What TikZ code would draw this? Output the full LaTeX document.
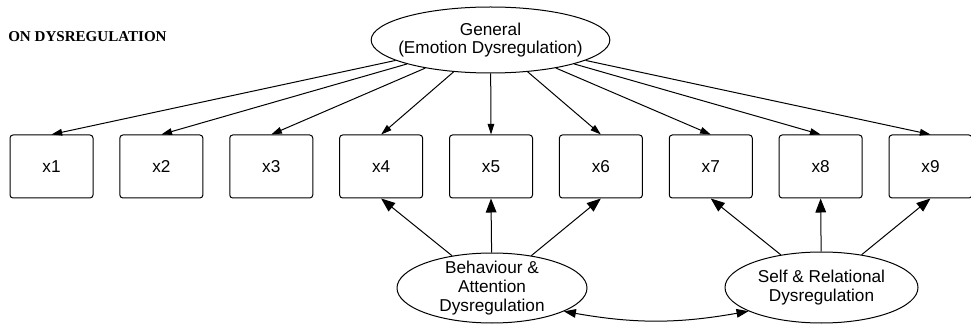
\documentclass[tikz,border=0pt]{standalone}
\usepackage{fontspec}
\setmainfont{Liberation Sans}
\newfontfamily\headfont{Liberation Serif}
\usetikzlibrary{shapes.geometric,arrows.meta}
\tikzset{
    factor/.style ={
        shape=ellipse,
        draw=black,
        line width=0.75pt,
        inner sep=0pt
    },
    indicator/.style ={
        shape=rectangle,
        rounded corners=2.25pt,
        draw=black,
        line width=0.75pt,
        minimum width=62.25pt,
        minimum height=47.25pt
    },
    load/.style ={
        -{Triangle[length=8pt,width=5pt]},
        line width=0.75pt
    },
    spec/.style ={
        -{Triangle[length=10.5pt,width=8pt]},
        line width=0.75pt
    },
    cov/.style ={
        {Triangle[length=9pt,width=6.5pt]}-{Triangle[length=9pt,width=6.5pt]},
        line width=0.75pt
    }
}

\begin{document}
\begin{tikzpicture}[x=0.75pt,y=-0.75pt,font=\fontsize{12.9pt}{14pt}\selectfont]
    \useasboundingbox (0,0) rectangle (971,324);
    \node[anchor=west,inner sep=0pt,font=\headfont\bfseries\fontsize{11.3pt}{13pt}\selectfont] (head) at(8,37) {ON DYSREGULATION};
    \node[factor,minimum width=179pt,minimum height=49.5pt,
        label={[align=center]center:General\\(Emotion Dysregulation)}] (gen) at(490.5,40) {};
    \foreach \i in {1,...,9}
        \node[indicator] (x\i) at({51.5+109.875*(\i-1)},166.5) {x\i};
    \node[factor,minimum width=142.5pt,minimum height=52.5pt,
        label={[align=center]center:Behaviour \&\\Attention\\Dysregulation}] (beh) at(492,288) {};
    \node[factor,minimum width=144.75pt,minimum height=53.25pt,
        label={[align=center]center:Self \& Relational\\Dysregulation}] (self) at(821.5,287.5) {};
    \foreach \i in {1,...,9}
        \draw[load] (gen) -- (x\i.north);
    \foreach \i in {4,5,6}
        \draw[spec] (beh) -- (x\i.south);
    \foreach \i in {7,8,9}
        \draw[spec] (self) -- (x\i.south);
    \draw[cov] (beh.-18) to[bend right=10] (self.198);
\end{tikzpicture}
\end{document}
